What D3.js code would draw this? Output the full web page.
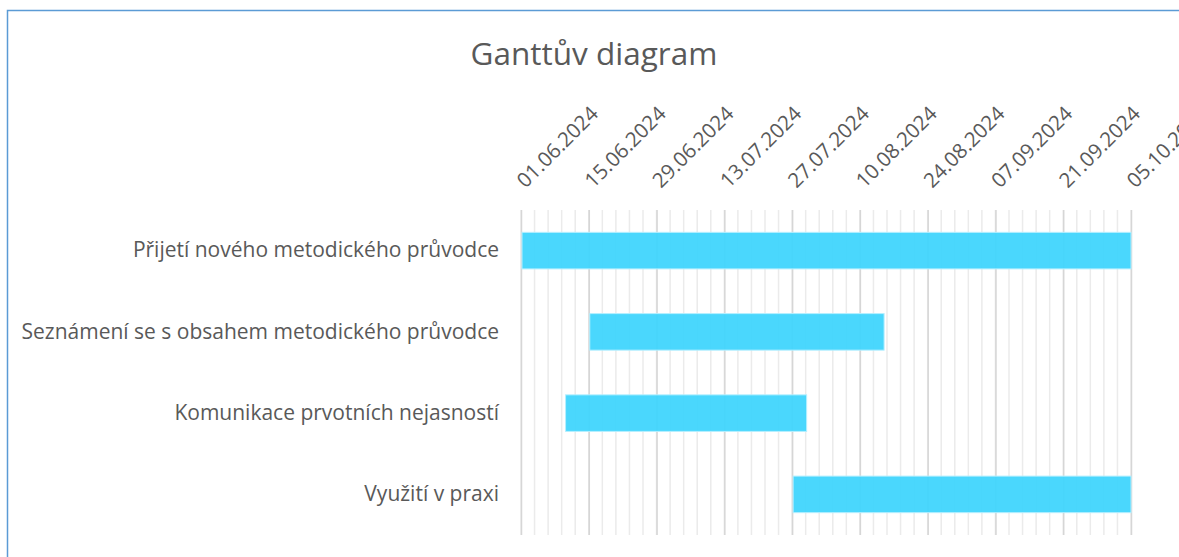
<!DOCTYPE html>
<html>
<head>
<meta charset="utf-8">
<script src="https://cdn.jsdelivr.net/npm/d3@7"></script>
<style>
  body { margin: 0; background: #fff; }
  text { font-family: "Open Sans", "Noto Sans", sans-serif; }
</style>
</head>
<body>
<svg id="chart" width="1179" height="557"></svg>
<script>
// Úkoly a jejich začátky / konce
const tasks = [
  "Přijetí nového metodického průvodce",
  "Seznámení se s obsahem metodického průvodce",
  "Komunikace prvotních nejasností",
  "Využití v praxi"
];
const startDates = ["01.06.2024", "15.06.2024", "10.06.2024", "27.07.2024"];
const endDates = ["05.10.2024", "15.08.2024", "30.07.2024", "05.10.2024"];

// Popisky osy X
const tickLabels = [
  "01.06.2024", "15.06.2024", "29.06.2024", "13.07.2024", "27.07.2024",
  "10.08.2024", "24.08.2024", "07.09.2024", "21.09.2024", "05.10.2024"
];

const parse = d3.timeParse("%d.%m.%Y");
const fmt = d3.timeFormat("%d.%m.%Y");
const tickDates = tickLabels.map(parse);

const svg = d3.select("#chart");

// rámeček grafu
svg.append("rect")
  .attr("x", 7.5).attr("y", 10.5)
  .attr("width", 1300).attr("height", 700)
  .attr("fill", "none")
  .attr("stroke", "#5b9bd5")
  .attr("stroke-width", 1.5);

// titulek
svg.append("text")
  .attr("x", 594).attr("y", 65)
  .attr("text-anchor", "middle")
  .attr("font-size", 31.5)
  .attr("fill", "#595959")
  .text("Ganttův diagram");

const plotTop = 210, plotBottom = 535;

const x = d3.scaleTime()
  .domain([tickDates[0], tickDates[tickDates.length - 1]])
  .range([521, 1131]);

const y = d3.scaleBand()
  .domain(tasks)
  .range([plotTop, plotBottom])
  .paddingInner(0.55)
  .paddingOuter(0.275);

// vedlejší mřížka (major / 5)
const minorStep = 14 / 5;
const minorDates = d3.range(0, 126.001, minorStep)
  .map(d => d3.timeMinute.offset(tickDates[0], Math.round(d * 24 * 60)));

svg.append("g")
  .selectAll("line")
  .data(minorDates)
  .join("line")
  .attr("x1", d => x(d)).attr("x2", d => x(d))
  .attr("y1", plotTop).attr("y2", plotBottom)
  .attr("stroke", "#ebebeb")
  .attr("stroke-width", 1.5);

// hlavní mřížka
svg.append("g")
  .attr("transform", `translate(0,${plotBottom})`)
  .call(d3.axisBottom(x).tickValues(tickDates).tickSize(-(plotBottom - plotTop)).tickFormat(""))
  .call(g => g.select(".domain").remove())
  .call(g => g.selectAll("line").attr("stroke", "#d6d6d6").attr("stroke-width", 1.5));

// popisky data nahoře
svg.append("g")
  .attr("transform", "translate(0,189)")
  .call(d3.axisTop(x).tickValues(tickDates).tickFormat(fmt).tickSize(0))
  .call(g => g.select(".domain").remove())
  .call(g => g.selectAll("text")
    .attr("x", 0).attr("y", 0).attr("dy", 0)
    .attr("transform", "translate(4,0) rotate(-45)")
    .style("text-anchor", "start")
    .attr("font-size", 20.5)
    .attr("font-family", null)
    .attr("fill", "#595959"));

// popisky úkolů
svg.append("g")
  .attr("transform", "translate(521,0)")
  .call(d3.axisLeft(y).tickSize(0).tickPadding(22))
  .call(g => g.select(".domain").remove())
  .call(g => g.selectAll("text")
    .attr("font-size", 21)
    .attr("font-family", null)
    .attr("fill", "#595959"));

// pruhy
svg.append("g")
  .selectAll("rect")
  .data(tasks)
  .join("rect")
  .attr("x", (d, i) => x(parse(startDates[i])) + 1)
  .attr("y", d => y(d))
  .attr("width", (d, i) => x(parse(endDates[i])) - x(parse(startDates[i])) - 1)
  .attr("height", y.bandwidth())
  .attr("fill", "#3fd5fd")
  .attr("fill-opacity", 0.94)
  .attr("stroke", "#b5efff")
  .attr("stroke-width", 1);
</script>
</body>
</html>
